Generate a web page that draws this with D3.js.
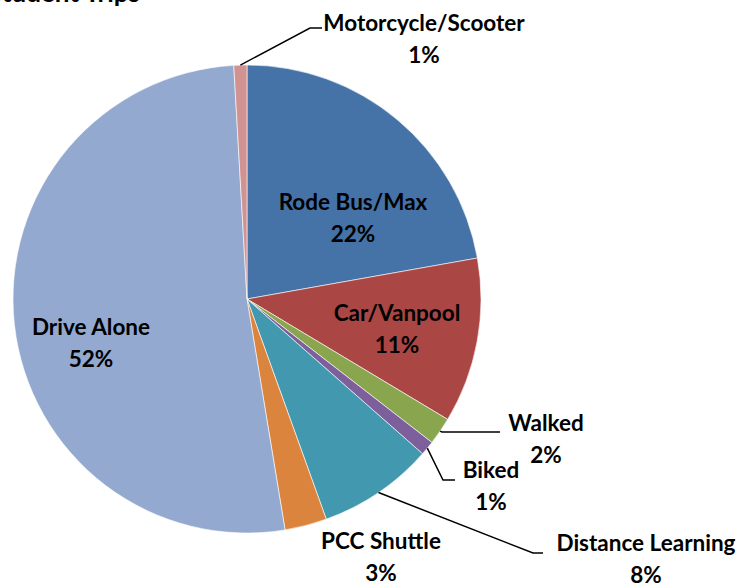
<!DOCTYPE html>
<html>
<head>
<meta charset="utf-8">
<script src="https://cdn.jsdelivr.net/npm/d3@7"></script>
<style>
  body { margin: 0; background: #fff; }
  text { font-family: Lato, "Open Sans", sans-serif; font-weight: 700; fill: #000; }
</style>
</head>
<body>
<div id="chart"></div>
<script>
// data (percent of student trips, clockwise from 12 o'clock)
const modes = ["Rode Bus/Max", "Car/Vanpool", "Walked", "Biked", "Distance Learning",
               "PCC Shuttle", "Drive Alone", "Motorcycle/Scooter"];
const shares = [22.2, 11.4, 1.9, 1.0, 8.0, 2.9, 51.7, 0.9];
const colors = ["#4572A7", "#AA4643", "#89A54E", "#7D5F9B", "#4198AF",
                "#DB843D", "#93A9CF", "#D19392"];

// label layout: [x center, first baseline, leader elbow x, elbow y, leader end x] (no leader if short)
const labelPos = {
  "Rode Bus/Max":       [353, 210],
  "Car/Vanpool":        [397, 321],
  "Walked":             [546, 431, 442, 432, 500],
  "Biked":              [491, 478, 443, 480, 455],
  "Distance Learning":  [646, 551, 533, 553, 543],
  "PCC Shuttle":        [381, 549],
  "Drive Alone":        [91, 335],
  "Motorcycle/Scooter": [424, 31, 310, 28, 322]
};

const width = 747, height = 586;
const cx = 247, cy = 299, r = 234;
const lineGap = 32;
const fontSize = "22.5px";

const svg = d3.select("#chart")
  .append("svg")
  .attr("width", width)
  .attr("height", height);

// title, mostly cut off by the top edge
svg.append("text")
  .attr("x", 140)
  .attr("y", 2)
  .attr("text-anchor", "end")
  .style("font-size", "26px")
  .text("Student Trips");

const pie = d3.pie().sort(null).value(d => d)(shares);
const arc = d3.arc().innerRadius(0).outerRadius(r);

const g = svg.append("g").attr("transform", `translate(${cx},${cy})`);

g.selectAll("path")
  .data(pie)
  .enter().append("path")
    .attr("d", arc)
    .attr("fill", (d, i) => colors[i])
    .attr("stroke", "#fff")
    .attr("stroke-width", 0.6);

// leader lines
pie.forEach((d, i) => {
  const p = labelPos[modes[i]];
  if (p.length < 5) return;
  const mid = (d.startAngle + d.endAngle) / 2;
  const sx = cx + r * Math.sin(mid), sy = cy - r * Math.cos(mid);
  svg.append("polyline")
    .attr("points", `${sx},${sy} ${p[2]},${p[3]} ${p[4]},${p[3]}`)
    .attr("fill", "none")
    .attr("stroke", "#000")
    .attr("stroke-width", 1.5);
});

// labels
modes.forEach((m, i) => {
  const p = labelPos[m];
  const t = svg.append("text")
    .attr("text-anchor", "middle")
    .style("font-size", fontSize);
  t.append("tspan").attr("x", p[0]).attr("y", p[1]).text(m);
  t.append("tspan").attr("x", p[0]).attr("y", p[1] + lineGap).text(Math.round(shares[i]) + "%");
});
</script>
</body>
</html>
